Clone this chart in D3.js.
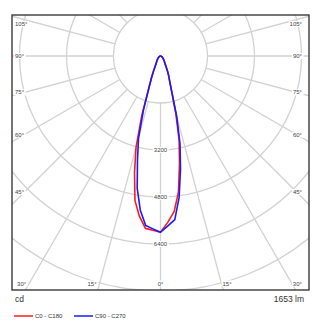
<!DOCTYPE html>
<html>
<head>
<meta charset="utf-8">
<script src="https://cdn.jsdelivr.net/npm/d3@7"></script>
<style>
  html, body { margin: 0; padding: 0; background: #fff; }
  svg { display: block; font-family: "Liberation Sans", Arial, sans-serif; }
</style>
</head>
<body>
<svg id="chart" width="323" height="328"></svg>
<script>
// Vertical angles (gamma, degrees from nadir)
const gammaAngles = [0, 2.5, 5, 7.5, 10, 12.5, 15, 17.5, 20, 22.5, 25, 27.5, 30,
                     35, 40, 45, 50, 55, 60, 65, 70, 75, 80, 85, 90];

// Luminous intensity (cd) per C-plane
const c0   = [6000, 5670, 5320, 4680, 3730, 2930, 2010, 1300, 900, 720, 560, 420, 320,
              230, 170, 130, 100, 80, 60, 45, 30, 20, 15, 8, 0];
const c180 = [6000, 5940, 5890, 5500, 5000, 4090, 3220, 2110, 1150, 800, 560, 400, 300,
              220, 170, 130, 100, 80, 60, 45, 30, 20, 15, 8, 0];
const c90  = [6000, 5785, 5590, 4855, 3920, 3070, 2140, 1250, 920, 730, 560, 420, 320,
              230, 170, 130, 100, 80, 60, 45, 30, 20, 15, 8, 0];
const c270 = [6000, 5890, 5790, 5285, 4570, 3620, 2890, 1925, 1150, 800, 560, 400, 300,
              220, 170, 130, 100, 80, 60, 45, 30, 20, 15, 8, 0];

// Grid
const ringValues = [1600, 3200, 4800, 6400, 8000];
const ringLabelValues = [3200, 4800, 6400];
const spokeAngles = d3.range(0, 181, 15);
const sideLabelAngles = [105, 90, 75, 60, 45];
const bottomLabelAngles = [30, 15, 0];

// Captions
const unitLabel = "cd";
const fluxLabel = "1653 lm";
const seriesNames = ["C0 - C180", "C90 - C270"];
const seriesColors = ["#ff1a1a", "#1a1aff"];

const svg = d3.select("#chart");
const frame = { x0: 12, y0: 15, x1: 309, y1: 290 };
const cx = 160.5, cy = 56;
const r = d3.scaleLinear().domain([0, 8000]).range([0, 235]);
const rad = d => d * Math.PI / 180;

svg.append("rect").attr("width", 323).attr("height", 328).attr("fill", "#fff");

svg.append("defs").append("clipPath").attr("id", "plotClip")
  .append("rect")
  .attr("x", frame.x0).attr("y", frame.y0)
  .attr("width", frame.x1 - frame.x0).attr("height", frame.y1 - frame.y0);

const grid = svg.append("g").attr("clip-path", "url(#plotClip)")
  .attr("fill", "none").attr("stroke", "#d2d2d2").attr("stroke-width", 1.3);

grid.selectAll("circle").data(ringValues).join("circle")
  .attr("cx", cx).attr("cy", cy).attr("r", d => r(d));

// Spokes on both halves, starting at the innermost ring
const spokes = [];
spokeAngles.forEach(a => {
  spokes.push({ a, s: 1 });
  if (a !== 0 && a !== 180) spokes.push({ a, s: -1 });
});
grid.selectAll("line").data(spokes).join("line")
  .attr("x1", d => cx + d.s * r(1600) * Math.sin(rad(d.a)))
  .attr("y1", d => cy + r(1600) * Math.cos(rad(d.a)))
  .attr("x2", d => cx + d.s * 500 * Math.sin(rad(d.a)))
  .attr("y2", d => cy + 500 * Math.cos(rad(d.a)));

// Label helper: text on a white box
function boxedLabel(g, x, y, text, anchor, size, color) {
  const grp = g.append("g");
  const t = grp.append("text")
    .attr("x", x).attr("y", y)
    .attr("text-anchor", anchor)
    .attr("dominant-baseline", "central")
    .attr("font-size", size)
    .attr("fill", color)
    .text(text);
  const b = t.node().getBBox();
  grp.insert("rect", "text")
    .attr("x", b.x - 1).attr("y", b.y)
    .attr("width", b.width + 2).attr("height", b.height)
    .attr("fill", "#fff");
  return grp;
}

const labels = svg.append("g");

// Intensity values along the nadir axis
ringLabelValues.forEach(v => {
  boxedLabel(labels, cx, cy + r(v), String(v), "middle", 6, "#444");
});

// Angle labels on the sides
sideLabelAngles.forEach(a => {
  let y = cy + 136 * Math.cos(rad(a)) / Math.sin(rad(a));
  y = Math.max(y, 24);
  boxedLabel(labels, 15, y, a + "°", "start", 6, "#444");
  boxedLabel(labels, 302, y, a + "°", "end", 6, "#444");
});

// Angle labels along the bottom
const bottomY = 283.5;
bottomLabelAngles.forEach(a => {
  const dx = (bottomY - cy) * Math.tan(rad(a));
  if (a === 0) {
    boxedLabel(labels, cx, bottomY, a + "°", "middle", 6, "#444");
  } else {
    boxedLabel(labels, cx - dx - 3, bottomY, a + "°", "end", 6, "#444");
    boxedLabel(labels, cx + dx + 1, bottomY, a + "°", "start", 6, "#444");
  }
});

// Polar curves: right half from one plane, left half from the opposite plane
function planePoints(rightVals, leftVals) {
  const pts = [];
  for (let i = gammaAngles.length - 1; i >= 0; i--) {
    const g = rad(gammaAngles[i]);
    pts.push([cx - r(leftVals[i]) * Math.sin(g), cy + r(leftVals[i]) * Math.cos(g)]);
  }
  for (let i = 1; i < gammaAngles.length; i++) {
    const g = rad(gammaAngles[i]);
    pts.push([cx + r(rightVals[i]) * Math.sin(g), cy + r(rightVals[i]) * Math.cos(g)]);
  }
  return pts;
}

const line = d3.line();
const curves = svg.append("g").attr("fill", "none").attr("stroke-width", 1.6)
  .attr("stroke-linejoin", "round");
curves.append("path").attr("d", line(planePoints(c0, c180)) + "Z").attr("stroke", seriesColors[0]);
curves.append("path").attr("d", line(planePoints(c90, c270)) + "Z").attr("stroke", seriesColors[1]);

// Frame
svg.append("rect")
  .attr("x", frame.x0).attr("y", frame.y0)
  .attr("width", frame.x1 - frame.x0).attr("height", frame.y1 - frame.y0)
  .attr("fill", "none").attr("stroke", "#3a3a3a").attr("stroke-width", 1.4);

// Captions
svg.append("text").attr("x", 15).attr("y", 301.5)
  .attr("font-size", 8.5).attr("fill", "#333").text(unitLabel);
svg.append("text").attr("x", 304).attr("y", 301.5).attr("text-anchor", "end")
  .attr("font-size", 8.5).attr("fill", "#333").text(fluxLabel);

// Legend
const legend = svg.append("g");
const legendX = [14, 74];
seriesNames.forEach((name, i) => {
  legend.append("line")
    .attr("x1", legendX[i]).attr("x2", legendX[i] + 19)
    .attr("y1", 316).attr("y2", 316)
    .attr("stroke", seriesColors[i]).attr("stroke-width", 1.5);
  legend.append("text")
    .attr("x", legendX[i] + 21).attr("y", 316)
    .attr("dominant-baseline", "central")
    .attr("font-size", 6).attr("fill", "#333").text(name);
});
</script>
</body>
</html>
